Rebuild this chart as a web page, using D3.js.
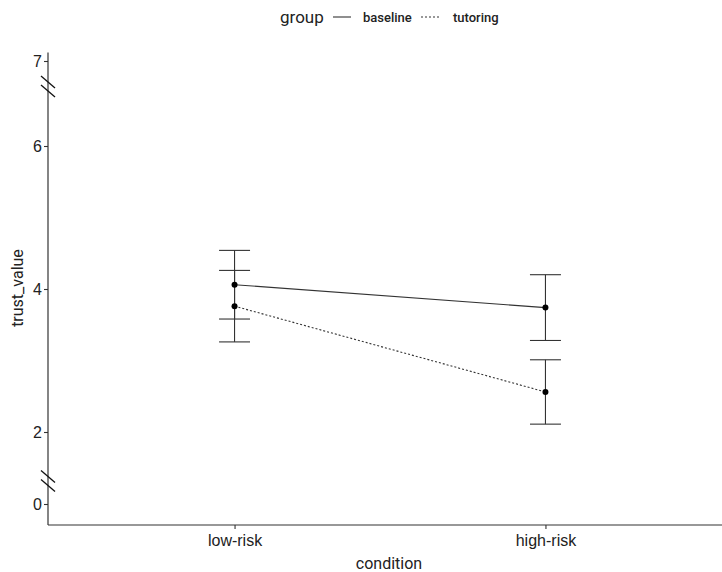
<!DOCTYPE html>
<html>
<head>
<meta charset="utf-8">
<script src="https://cdn.jsdelivr.net/npm/d3@7"></script>
<style>
  body { margin: 0; background: #fff; }
  svg { display: block; }
</style>
</head>
<body>
<svg id="chart"></svg>
<script>

// data
const conditions = ["low-risk", "high-risk"];
const groups = ["baseline", "tutoring"];
const baselineMean = [4.06, 3.74];
const baselineErr = [0.48, 0.46];
const tutoringMean = [3.76, 2.56];
const tutoringErr = [0.50, 0.45];

const yTicks = [0, 2, 4, 6, 7];
const yBreaks = [0.64, 6.7];   // where the axis is cut
const yExtent = [-0.58, 7.1];

const width = 722, height = 572;

const svg = d3.select("#chart")
        .attr("width", width)
        .attr("height", height);

//x: discrete, ggplot style padding
const xScale = d3.scalePoint().domain(conditions).range([48, 732]).padding(0.6);

//y: piecewise, the 0-2 and 6-7 parts are squeezed/stretched around the breaks
const yScale = d3.scaleLinear().domain([0, 2, 6, 7]).range([504, 432, 146, 61]);

const series = [
        {name: "baseline", mean: baselineMean, err: baselineErr, dash: null},
        {name: "tutoring", mean: tutoringMean, err: tutoringErr, dash: "2,2"}
];

const ink = "#333";

//error bars
series.forEach(s => {
        const g = svg.append("g");
        conditions.forEach((c, i) => {
                const x = xScale(c);
                const top = yScale(s.mean[i] + s.err[i]);
                const bot = yScale(s.mean[i] - s.err[i]);
                g.append("line").attr("x1", x).attr("x2", x).attr("y1", top).attr("y2", bot)
                        .attr("stroke", ink).attr("stroke-width", 1.1);
                [top, bot].forEach(y => {
                        g.append("line").attr("x1", x - 15.5).attr("x2", x + 15.5).attr("y1", y).attr("y2", y)
                                .attr("stroke", ink).attr("stroke-width", 1.1);
                });
        });
});

//lines + points
const line = d3.line().x((d, i) => xScale(conditions[i])).y(d => yScale(d));

series.forEach(s => {
        svg.append("path")
                .attr("d", line(s.mean))
                .attr("fill", "none")
                .attr("stroke", ink)
                .attr("stroke-width", 1.1)
                .attr("stroke-dasharray", s.dash);

        svg.append("g").selectAll("circle")
                .data(s.mean)
                .join("circle")
                .attr("cx", (d, i) => xScale(conditions[i]))
                .attr("cy", d => yScale(d))
                .attr("r", 3)
                .attr("fill", "#000");
});

//axes
const yAxis = svg.append("g")
        .attr("transform", "translate(48,0)")
        .call(d3.axisLeft(yScale).tickValues(yTicks).tickFormat(d3.format("d")).tickSize(4).tickSizeOuter(0));
yAxis.select(".domain").remove();
yAxis.selectAll(".tick line").attr("stroke", ink).attr("stroke-width", 1.1);
yAxis.selectAll(".tick text")
        .attr("x", -6)
        .attr("fill", "#222")
        .style("font-family", "Liberation Sans, Arial, sans-serif")
        .style("font-size", "16px");

const xAxis = svg.append("g")
        .attr("transform", "translate(0,525)")
        .call(d3.axisBottom(xScale).tickSize(4).tickSizeOuter(0));
xAxis.select(".domain").remove();
xAxis.selectAll(".tick line").attr("stroke", ink).attr("stroke-width", 1.1);
xAxis.selectAll(".tick text")
        .attr("y", 10)
        .attr("fill", "#222")
        .style("font-family", "Liberation Sans, Arial, sans-serif")
        .style("font-size", "16px");

//axis lines
svg.append("line")
        .attr("x1", 48).attr("x2", 48)
        .attr("y1", yScale(yExtent[1])).attr("y2", 525)
        .attr("stroke", ink).attr("stroke-width", 1.2);
svg.append("line")
        .attr("x1", 48).attr("x2", width)
        .attr("y1", 525).attr("y2", 525)
        .attr("stroke", ink).attr("stroke-width", 1.2);

//break marks
yBreaks.forEach(b => {
        const yc = yScale(b);
        [-4.5, 4.5].forEach(off => {
                svg.append("line")
                        .attr("x1", 41).attr("x2", 55)
                        .attr("y1", yc + off - 6).attr("y2", yc + off + 6)
                        .attr("stroke", "#111").attr("stroke-width", 1.3);
        });
});

//titles
svg.append("text")
        .attr("x", 389).attr("y", 569)
        .attr("text-anchor", "middle")
        .attr("fill", "#222")
        .style("font-family", "Roboto, sans-serif")
        .style("font-size", "16px")
        .text("condition");

svg.append("text")
        .attr("transform", "translate(23,288) rotate(-90)")
        .attr("text-anchor", "middle")
        .attr("fill", "#222")
        .style("font-family", "Roboto, sans-serif")
        .style("font-size", "16px")
        .text("trust_value");

//legend
const legend = svg.append("g");
legend.append("text")
        .attr("x", 280).attr("y", 23)
        .attr("fill", "#222")
        .style("font-family", "Roboto, sans-serif")
        .style("font-size", "17px")
        .text("group");

const legendKeys = [{x: 333, tx: 363}, {x: 421, tx: 453}];
series.forEach((s, i) => {
        legend.append("line")
                .attr("x1", legendKeys[i].x).attr("x2", legendKeys[i].x + 18)
                .attr("y1", 17).attr("y2", 17)
                .attr("stroke", ink).attr("stroke-width", 1.1)
                .attr("stroke-dasharray", s.dash);
        legend.append("text")
                .attr("x", legendKeys[i].tx).attr("y", 22)
                .attr("fill", "#222")
                .style("font-family", "Roboto, sans-serif")
                .style("font-size", "13px")
                .style("font-weight", 500)
                .text(groups[i]);
});

</script>
</body>
</html>
